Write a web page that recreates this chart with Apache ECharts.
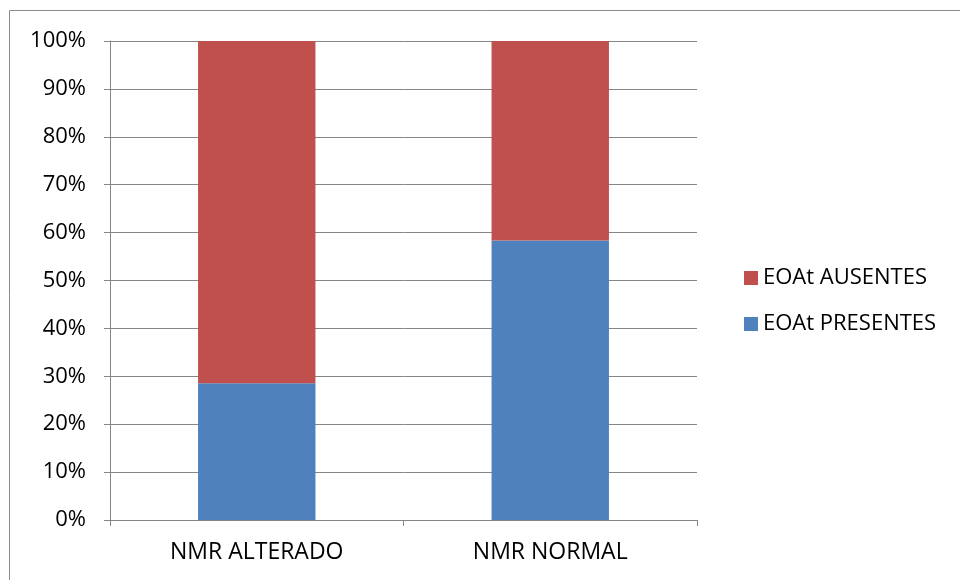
<!DOCTYPE html>
<html><head><meta charset="utf-8">
<script src="https://cdn.jsdelivr.net/npm/echarts@6/dist/echarts.min.js"></script>
<style>html,body{margin:0;padding:0;background:#fff}#c{width:960px;height:580px}</style>
</head><body><div id="c"></div>
<script>
const categories = ['NMR ALTERADO', 'NMR NORMAL'];
const presentes = [28.57, 58.33];
const ausentes = [71.43, 41.67];
const yTicks = [0, 10, 20, 30, 40, 50, 60, 70, 80, 90, 100];

const chart = echarts.init(document.getElementById('c'), null, {renderer: 'canvas'});
const font = "'Open Sans', 'Noto Sans', sans-serif";
chart.setOption({
  animation: false,
  backgroundColor: '#fff',
  graphic: [{
    type: 'rect', shape: {x: 9.5, y: 10.5, width: 1200, height: 1000},
    style: {fill: 'none', stroke: '#8c8c8c', lineWidth: 1}, z: -1
  }],
  grid: {left: 110, right: 263, top: 41, bottom: 60, containLabel: false},
  legend: {
    data: ['EOAt AUSENTES', 'EOAt PRESENTES'],
    orient: 'vertical', left: 739, top: 262,
    itemWidth: 14, itemHeight: 14, itemGap: 24,
    icon: 'rect',
    textStyle: {fontFamily: font, fontSize: 22, color: '#000'}
  },
  xAxis: {
    type: 'category', data: categories,
    axisLine: {lineStyle: {color: '#868686'}},
    axisTick: {show: true, length: 6, lineStyle: {color: '#868686'}},
    axisLabel: {fontFamily: font, fontSize: 23, color: '#000', margin: 21}
  },
  yAxis: {
    type: 'value', min: 0, max: 100, interval: 10,
    axisLine: {show: true, lineStyle: {color: '#868686'}},
    axisTick: {show: true, length: 6, lineStyle: {color: '#868686'}},
    splitLine: {lineStyle: {color: '#868686'}},
    axisLabel: {fontFamily: font, fontSize: 22, color: '#000', margin: 24,
      formatter: v => yTicks.includes(v) ? v + '%' : ''}
  },
  series: [
    {name: 'EOAt PRESENTES', type: 'bar', stack: 't', data: presentes, barWidth: '40%',
     itemStyle: {color: '#4f81bd'}},
    {name: 'EOAt AUSENTES', type: 'bar', stack: 't', data: ausentes, barWidth: '40%',
     itemStyle: {color: '#c0504d'}}
  ]
});
</script></body></html>
